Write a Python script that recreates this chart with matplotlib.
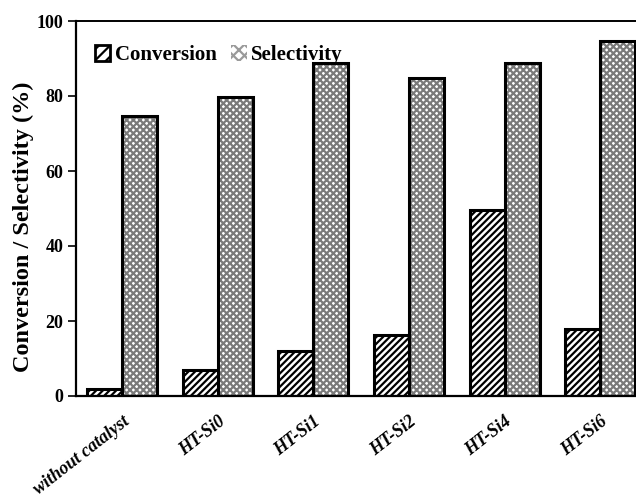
import matplotlib
matplotlib.use("Agg")
import matplotlib.pyplot as plt
import numpy as np
from matplotlib.patches import Patch

categories = ["without catalyst", "HT-Si0", "HT-Si1", "HT-Si2", "HT-Si4", "HT-Si6"]
conversion = [1.8, 6.9, 12.0, 16.3, 49.6, 18.0]
selectivity = [74.6, 79.8, 88.9, 84.7, 88.9, 94.7]
yticks = [0, 20, 40, 60, 80, 100]

plt.rcParams['font.family'] = ['Liberation Serif', 'DejaVu Serif']
plt.rcParams['font.weight'] = 'bold'
plt.rcParams['hatch.linewidth'] = 1.6

fig = plt.figure(figsize=(6.36, 5.04), dpi=100)
ax = fig.add_axes([76/636, 1-396/504, 570/636, (396-21)/504])

x = np.arange(len(categories))
w = 0.366

# conversion bars
ax.bar(x - w/2, conversion, width=w, color='white', edgecolor='black', hatch='/////', linewidth=0, zorder=2)
ax.bar(x - w/2, conversion, width=w, fill=False, edgecolor='black', linewidth=2.2, zorder=3)
# selectivity bars
ax.bar(x + w/2, selectivity, width=w, color='white', edgecolor='#7a7a7a', hatch='xxxxx', linewidth=0, zorder=2)
ax.bar(x + w/2, selectivity, width=w, fill=False, edgecolor='black', linewidth=2.2, zorder=3)

ax.set_xlim(-0.484, -0.484 + 570/95.6)
ax.set_ylim(0, 100)
ax.set_yticks(yticks)
ax.set_yticklabels([str(v) for v in yticks], fontsize=13, fontweight='bold')
ax.set_xticks(x)
ax.set_xticklabels(categories, rotation=38, ha='right', rotation_mode='anchor',
                   fontsize=13, fontweight='bold', fontstyle='italic')
ax.tick_params(axis='x', length=0, pad=12)
ax.tick_params(axis='y', direction='out', length=6, width=1.2, pad=3)
ax.set_ylabel("Conversion / Selectivity (%)", fontsize=17.5, fontweight='bold')
ax.yaxis.set_label_coords(-0.074, 0.45)

for s in ['left', 'bottom']:
    ax.spines[s].set_linewidth(1.6)
ax.spines['top'].set_linewidth(1.4)
ax.spines['right'].set_visible(False)

h1 = Patch(facecolor='white', edgecolor='black', hatch='///', linewidth=2)
h2 = Patch(facecolor='white', edgecolor='#9a9a9a', hatch='xxx', linewidth=0)
leg = ax.legend([h1, h2], ["Conversion", "Selectivity"], loc='upper left',
                bbox_to_anchor=(0.0, 0.985), ncol=2, frameon=False,
                handlelength=0.75, handleheight=0.75, handletextpad=0.2,
                columnspacing=0.7, prop={'family': ['Liberation Serif'], 'weight': 'bold', 'size': 15})

fig.savefig("out.png", dpi=100)
